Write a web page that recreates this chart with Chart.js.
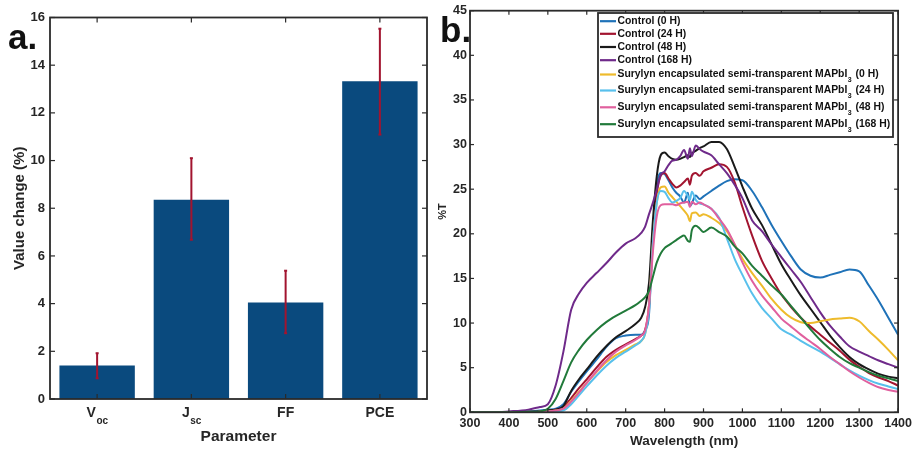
<!DOCTYPE html>
<html><head><meta charset="utf-8">
<script src="https://cdn.jsdelivr.net/npm/chart.js@4.4.1/dist/chart.umd.min.js"></script>
<style>
html,body{margin:0;padding:0;background:#fff;width:916px;height:449px;overflow:hidden;}
#wa{position:absolute;left:0;top:0;width:430px;height:449px;}
#wb{position:absolute;left:430px;top:0;width:486px;height:449px;}
.plabel{position:absolute;font-family:"Liberation Sans",Arial,sans-serif;font-weight:bold;color:#111;font-size:35px;line-height:1;}
</style></head><body>
<div id="wa"><canvas id="ca" width="430" height="449"></canvas></div>
<div id="wb"><canvas id="cb" width="486" height="449"></canvas></div>
<div class="plabel" style="left:8px;top:19px">a.</div>
<div class="plabel" style="left:440px;top:12px">b.</div>
<script>
// ---------- Panel a data ----------
const paramCategories = ['V_oc', 'J_sc', 'FF', 'PCE'];
const valueChange = [1.40, 8.36, 4.05, 13.33];
const errUpper = [1.92, 10.10, 5.38, 15.53];
const errLower = [0.87, 6.68, 2.76, 11.09];
const valueTicks = [0, 2, 4, 6, 8, 10, 12, 14, 16];

// ---------- Panel b data ----------
const wavelength = [300,330,360,400,450,480,500,520,540,560,
  580,600,625,650,675,700,725,740,750,760,
  770,780,790,800,810,820,830,840,850,860,
  865,870,880,890,900,920,940,960,980,1000,
  1025,1050,1075,1100,1125,1150,1175,1200,1225,1250,
  1275,1300,1325,1350,1375,1400];
const control0H = [0,0,0,0,0.1,0.2,0.3,0.4,0.9,2.3,
  3.5,4.6,5.9,7.3,8.3,8.6,8.7,8.7,9.2,11,
  20,25.5,26.8,26.7,26,25.2,24.6,24.2,23.5,24.6,
  23.1,23.4,24.3,23.9,24.2,24.8,25.4,25.9,26.1,26,
  24.8,23,21,19.2,17.5,16,15.3,15.1,15.4,15.7,
  16,15.8,14.2,12.5,10.6,8.7];
const control24H = [0,0,0,0,0.05,0.1,0.2,0.3,0.6,1.6,
  2.7,3.7,5,6.2,7,7.6,8.2,8.6,9.2,12,
  20,24.5,26.5,26.8,26.2,25.6,25.2,25.4,25.8,26.2,
  25.5,26.5,26.8,26.5,27,27.4,27.8,27.5,25.8,23,
  19.8,17,15,13.2,11.8,10.6,9.6,8.7,7.8,6.9,
  5.9,5.1,4.4,3.9,3.5,3.0];
const control48H = [0,0,0,0,0.05,0.1,0.2,0.3,0.7,2.4,
  3.7,4.8,6.2,7.4,8.4,9.1,9.9,10.6,11.8,14.5,
  21.5,26.5,28.8,29.1,28.7,28.4,28.3,28.4,28.6,28.8,
  28.6,29,29.3,29.6,29.8,30.3,30.3,29.5,27.5,25.3,
  22.8,21,18.8,16.6,14.8,13.1,11.6,10.1,8.6,7.3,
  6.2,5.4,4.8,4.3,4.0,3.8];
const control168H = [0,0,0,0.1,0.3,0.6,0.9,3,6.8,11.5,
  13.3,14.5,15.6,16.7,17.9,18.9,19.5,20.1,20.8,22.2,
  23.5,25,26.6,27,27.7,28.2,28.3,28.7,29.4,28.4,
  29.6,28.7,29.9,29.5,29.2,28.8,27.8,26.8,25.5,24,
  21.5,20.3,18.8,17.4,16,14.6,12.9,11.2,9.7,8.5,
  7.4,6.8,6.3,5.8,5.4,5.0];
const surlyn0H = [0,0,0,0,0,0.05,0.1,0.2,0.4,1.3,
  2.3,3.3,4.5,5.6,6.4,7.0,7.6,8.0,8.8,12,
  19,23.5,25.2,25.3,24.6,24.1,23.6,23.1,22.6,22,
  21.4,22.3,22.4,22,22.2,21.8,21.2,20.3,18.8,17.2,
  15.6,14.2,12.7,11.5,10.6,10.1,10.0,10.2,10.4,10.5,
  10.6,10.2,9.1,8.1,7.0,5.8];
const surlyn24H = [0,0,0,0,0,0,0.05,0.1,0.2,0.9,
  1.9,2.9,4.1,5.2,6.1,6.8,7.5,8,8.8,11.5,
  19,23.5,24.8,24.7,24,23.5,23.7,24,24.8,24.2,
  23.8,24.7,23.8,23.4,23.3,22.8,21.8,19.5,17.2,15.4,
  13.3,11.7,10.5,9.3,8.7,8.0,7.4,6.8,6.1,5.4,
  4.7,4.1,3.6,3.2,2.9,2.6];
const surlyn48H = [0,0,0,0,0,0.05,0.1,0.2,0.4,1.2,
  2.2,3.3,4.6,5.8,6.8,7.5,8.1,8.6,9.2,12,
  18,22,23.2,23.3,23.3,23.3,23.2,23.4,23.5,23.6,
  23,23.6,23.3,23.5,23.3,22.8,21.7,20.5,18.8,16.8,
  14.7,13.1,11.8,10.5,9.6,8.7,7.9,7.1,6.2,5.4,
  4.6,3.9,3.3,2.8,2.5,2.3];
const surlyn168H = [0,0,0,0,0.05,0.1,0.4,1.5,3.5,5.6,
  7,8.1,9.2,10.1,10.8,11.4,12,12.5,12.9,13.6,
  15.2,16.8,17.8,18.4,18.7,19,19.3,19.6,19.8,19.2,
  19.1,20.4,20.9,20.6,20.2,20.7,20.2,19.7,18.6,17.8,
  16.4,15.3,14.2,13.2,11.9,10.6,9.3,8.1,7.1,6.2,
  5.5,5.0,4.5,4.1,3.8,3.5];
const seriesLabels = ['Control (0 H)', 'Control (24 H)', 'Control (48 H)', 'Control (168 H)',
  'Surylyn encapsulated semi-transparent MAPbI₃ (0 H)',
  'Surylyn encapsulated semi-transparent MAPbI₃ (24 H)',
  'Surylyn encapsulated semi-transparent MAPbI₃ (48 H)',
  'Surylyn encapsulated semi-transparent MAPbI₃ (168 H)'];
const seriesValues = [control0H, control24H, control48H, control168H, surlyn0H, surlyn24H, surlyn48H, surlyn168H];
const seriesColors = ['#1f72b8', '#a2142f', '#1a1a1a', '#6f2a8a', '#eebb2c', '#58c0ec', '#e0609e', '#217a3a'];
const wlTicks = [300,400,500,600,700,800,900,1000,1100,1200,1300,1400];
const tTicks = [0,5,10,15,20,25,30,35,40,45];

const FONT = '"Liberation Sans", Arial, Helvetica, sans-serif';
const TXT = '#262626';

function line(ctx, x1, y1, x2, y2) { ctx.beginPath(); ctx.moveTo(x1, y1); ctx.lineTo(x2, y2); ctx.stroke(); }

const framePlugin = {
  id: 'frame',
  afterDraw(chart, args, opts) {
    const ctx = chart.ctx;
    const { left, right, top, bottom } = chart.chartArea;
    const xs = chart.scales.x, ys = chart.scales.y;
    const L = opts.tickLen || 4;
    ctx.save();
    ctx.strokeStyle = '#2b2b2b';
    ctx.lineWidth = 1.2;
    xs.ticks.forEach((t, i) => {
      const px = xs.getPixelForTick(i);
      line(ctx, px, bottom, px, bottom - L);
      line(ctx, px, top, px, top + L);
    });
    ys.ticks.forEach((t, i) => {
      const py = ys.getPixelForTick(i);
      line(ctx, left, py, left + L, py);
      line(ctx, right, py, right - L, py);
    });
    ctx.lineWidth = 1.8;
    ctx.strokeRect(left, top, right - left, bottom - top);
    ctx.restore();
  }
};

const errorBarPlugin = {
  id: 'errbars',
  afterDatasetsDraw(chart) {
    const ctx = chart.ctx;
    const ys = chart.scales.y;
    const meta = chart.getDatasetMeta(0);
    ctx.save();
    ctx.strokeStyle = '#a2142f';
    ctx.lineWidth = 2;
    meta.data.forEach((bar, i) => {
      const yH = ys.getPixelForValue(errUpper[i]);
      const yL = ys.getPixelForValue(errLower[i]);
      line(ctx, bar.x, yH, bar.x, yL);
      line(ctx, bar.x - 1.5, yH, bar.x + 1.5, yH);
      line(ctx, bar.x - 1.5, yL, bar.x + 1.5, yL);
    });
    ctx.restore();
  }
};

const subLabelPlugin = {
  id: 'sublabels',
  afterDraw(chart) {
    const ctx = chart.ctx;
    const xs = chart.scales.x;
    const y0 = chart.chartArea.bottom + 14;
    ctx.save();
    ctx.fillStyle = TXT;
    ctx.textBaseline = 'middle';
    ctx.textAlign = 'left';
    paramCategories.forEach((c, i) => {
      const parts = c.split('_');
      const x = xs.getPixelForValue(i);
      ctx.font = 'bold 14px ' + FONT;
      const wb = ctx.measureText(parts[0]).width;
      let ws = 0;
      if (parts[1]) { ctx.font = 'bold 10px ' + FONT; ws = ctx.measureText(parts[1]).width; }
      const start = x - (wb + ws) / 2;
      ctx.font = 'bold 14px ' + FONT;
      ctx.fillText(parts[0], start, y0);
      if (parts[1]) { ctx.font = 'bold 10px ' + FONT; ctx.fillText(parts[1], start + wb + 0.5, y0 + 8); }
    });
    ctx.restore();
  }
};

const boxLegendPlugin = {
  id: 'boxLegend',
  afterDraw(chart) {
    const ctx = chart.ctx;
    const ca = chart.chartArea;
    const bx = ca.left + 128, by = ca.top + 2.3, bw = 295, bh = 124;
    const rowY = [8.2, 20.8, 34, 47.2, 61.5, 77.5, 94.3, 111.2];
    ctx.save();
    ctx.fillStyle = '#fff';
    ctx.fillRect(bx, by, bw, bh);
    ctx.strokeStyle = '#2b2b2b';
    ctx.lineWidth = 1.8;
    ctx.strokeRect(bx, by, bw, bh);
    chart.data.datasets.forEach((ds, i) => {
      const y = by + rowY[i];
      ctx.strokeStyle = ds.borderColor;
      ctx.lineWidth = 2.2;
      line(ctx, bx + 2, y, bx + 18, y);
      ctx.fillStyle = '#111';
      ctx.textBaseline = 'middle';
      ctx.textAlign = 'left';
      const parts = ds.label.split('₃');
      ctx.font = 'bold 10.4px ' + FONT;
      let x = bx + 19.5;
      ctx.fillText(parts[0], x, y);
      if (parts.length > 1) {
        x += ctx.measureText(parts[0]).width;
        ctx.font = 'bold 7px ' + FONT;
        ctx.fillText('3', x + 0.5, y + 6);
        x += ctx.measureText('3').width + 1.5;
        ctx.font = 'bold 10.4px ' + FONT;
        ctx.fillText(parts[1], x, y);
      }
    });
    ctx.restore();
  }
};

// ---------- Chart a ----------
new Chart(document.getElementById('ca'), {
  type: 'bar',
  data: {
    labels: paramCategories,
    datasets: [{ data: valueChange, backgroundColor: '#0a4a7e', borderWidth: 0, barPercentage: 0.8, categoryPercentage: 1.0 }]
  },
  options: {
    responsive: false, animation: false, devicePixelRatio: 1,
    layout: { padding: { left: 0, top: 17.5, right: 3, bottom: 0 } },
    plugins: { legend: { display: false }, tooltip: { enabled: false }, frame: { tickLen: 5 } },
    scales: {
      x: {
        grid: { display: false, drawTicks: false }, border: { display: false },
        ticks: { display: false },
        title: { display: true, text: 'Parameter', color: TXT, font: { family: FONT, size: 15.5, weight: 'bold' }, padding: { top: 0, bottom: 2.7 } },
        afterFit: s => { s.height = 50; }
      },
      y: {
        min: 0, max: 16,
        afterBuildTicks: s => { s.ticks = valueTicks.map(v => ({ value: v })); },
        grid: { display: false, drawTicks: false }, border: { display: false },
        ticks: { padding: 5, color: TXT, font: { family: FONT, size: 13, weight: 'bold' }, callback: v => String(v) },
        title: { display: true, text: 'Value change (%)', color: TXT, font: { family: FONT, size: 15, weight: 'bold' }, padding: { top: 11, bottom: 0 } },
        afterFit: s => { s.width = 50; }
      }
    }
  },
  plugins: [errorBarPlugin, framePlugin, subLabelPlugin]
});

// ---------- Chart b ----------
new Chart(document.getElementById('cb'), {
  type: 'line',
  data: {
    datasets: seriesValues.map((vals, i) => ({
      label: seriesLabels[i],
      data: wavelength.map((w, j) => ({ x: w, y: vals[j] })),
      borderColor: seriesColors[i],
      backgroundColor: seriesColors[i],
      borderWidth: 2,
      pointRadius: 0,
      fill: false,
      cubicInterpolationMode: 'monotone',
      order: seriesValues.length - 1 - i
    }))
  },
  options: {
    responsive: false, animation: false, devicePixelRatio: 1,
    layout: { padding: { left: 0, top: 10.7, right: 17, bottom: 0 } },
    plugins: { legend: { display: false }, tooltip: { enabled: false }, frame: { tickLen: 4 } },
    scales: {
      x: {
        type: 'linear', min: 300, max: 1400,
        afterBuildTicks: s => { s.ticks = wlTicks.map(v => ({ value: v })); },
        grid: { display: false, drawTicks: false }, border: { display: false },
        ticks: { padding: 4, color: TXT, maxRotation: 0, font: { family: FONT, size: 12.5, weight: 'bold' }, callback: v => String(v) },
        title: { display: true, text: 'Wavelength (nm)', color: TXT, font: { family: FONT, size: 13.5, weight: 'bold' }, padding: { top: 0, bottom: 0 } },
        afterFit: s => { s.height = 36.7; }
      },
      y: {
        min: 0, max: 45,
        afterBuildTicks: s => { s.ticks = tTicks.map(v => ({ value: v })); },
        grid: { display: false, drawTicks: false }, border: { display: false },
        ticks: { padding: 3, color: TXT, font: { family: FONT, size: 12.5, weight: 'bold' }, callback: v => String(v) },
        title: { display: true, text: '%T', color: TXT, font: { family: FONT, size: 11, weight: 'bold' }, padding: { top: 6.4, bottom: 0 } },
        afterFit: s => { s.width = 40; }
      }
    }
  },
  plugins: [framePlugin, boxLegendPlugin]
});
</script>
</body></html>
